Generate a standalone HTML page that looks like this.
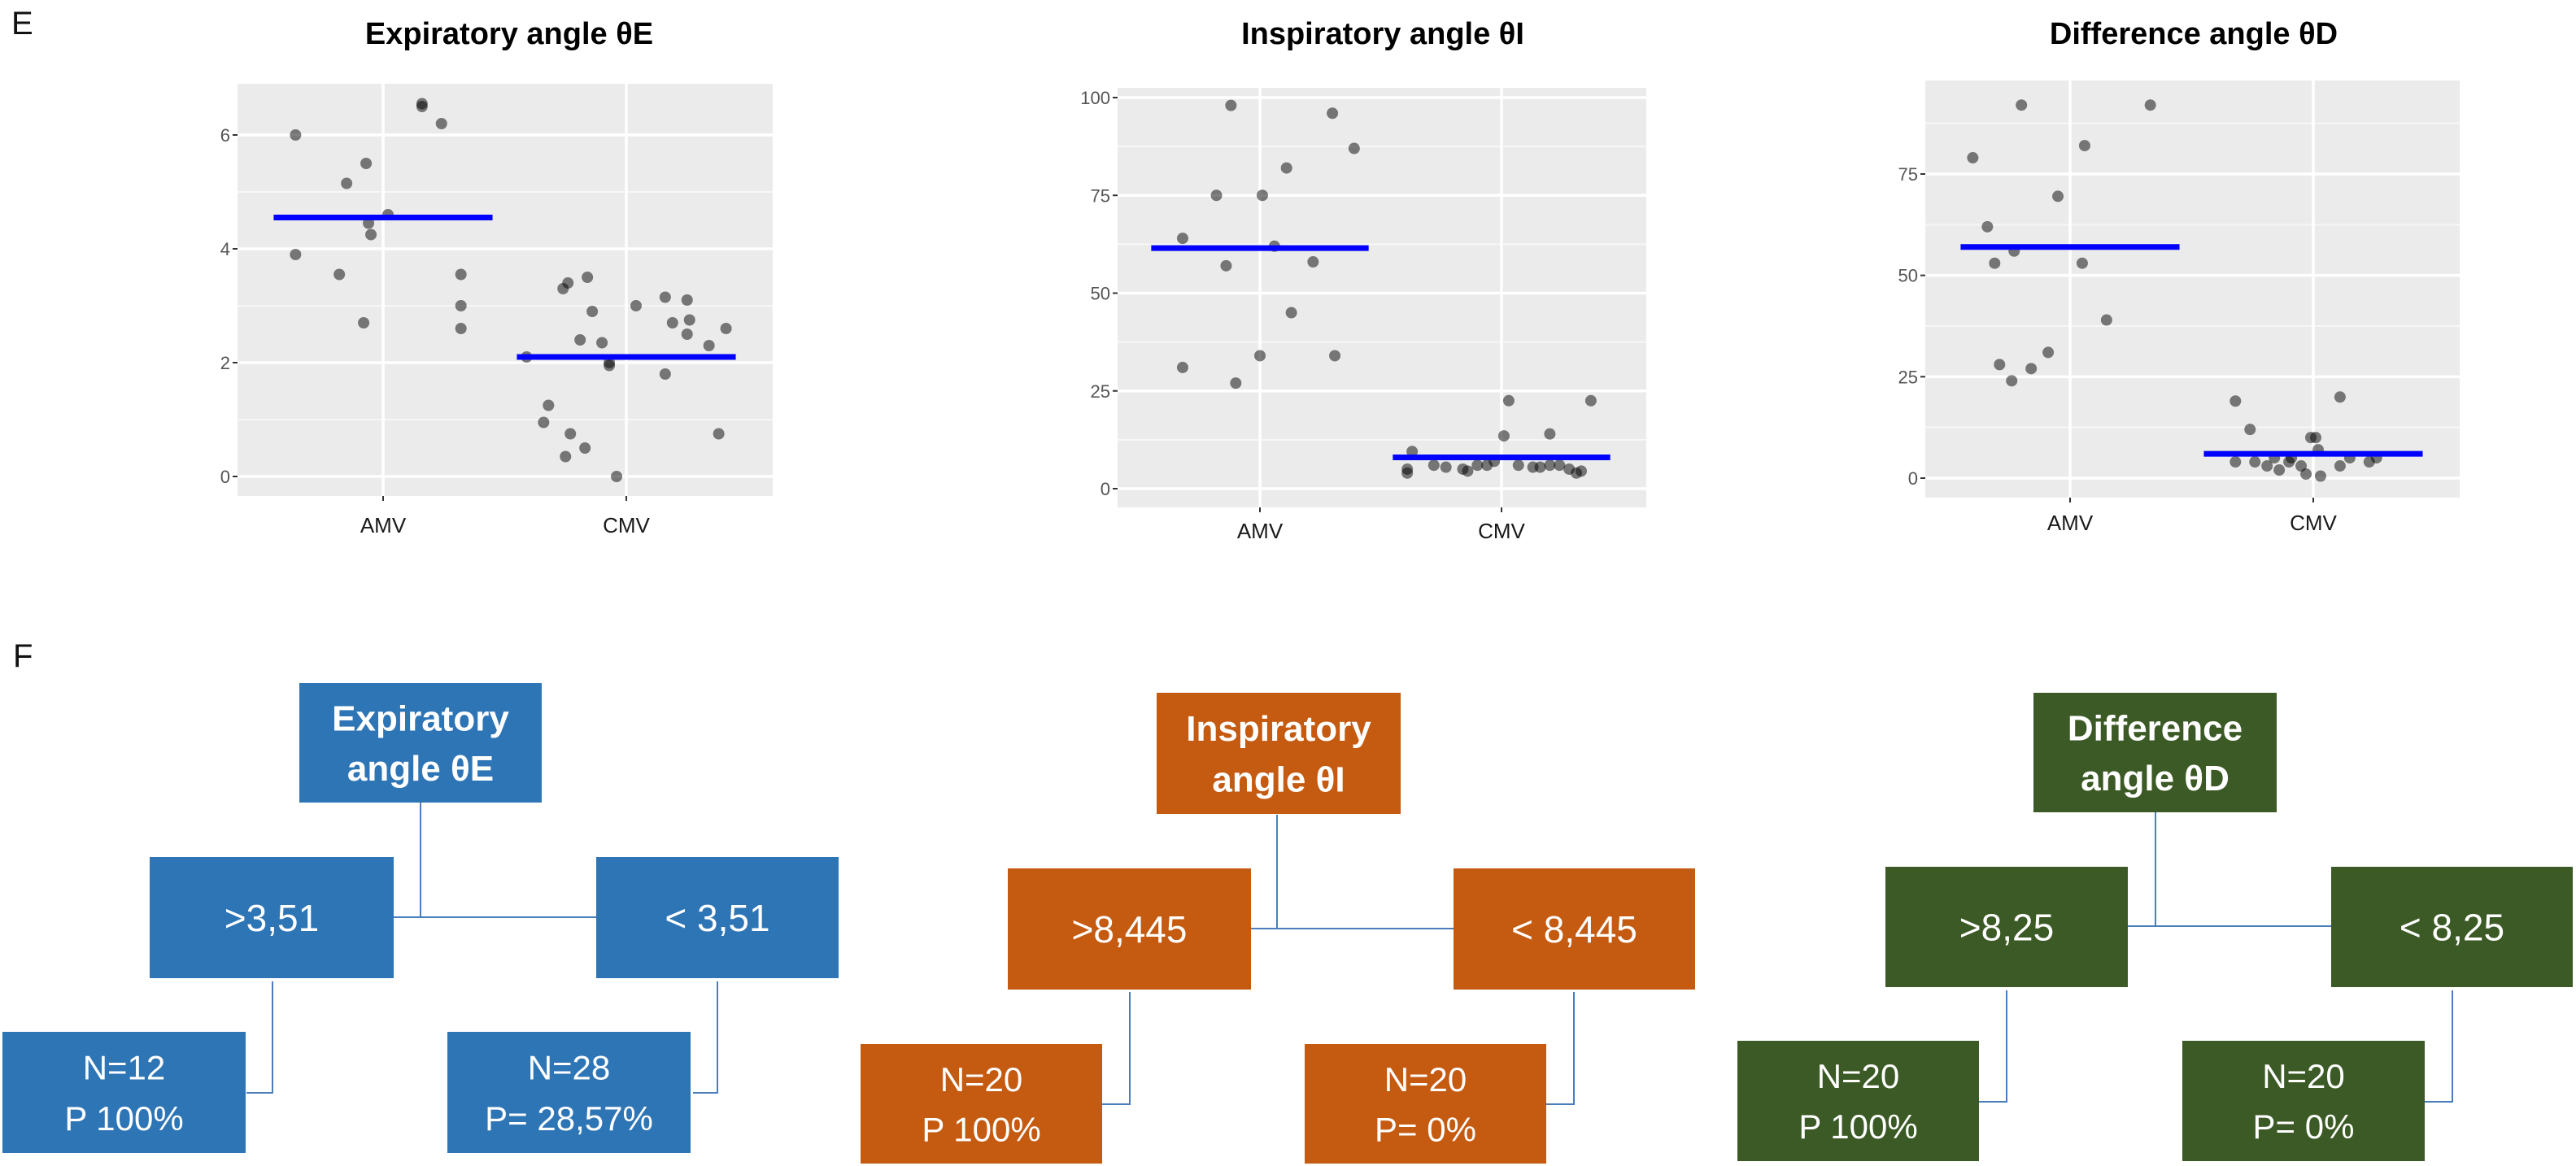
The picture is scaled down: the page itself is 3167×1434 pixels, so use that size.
<!DOCTYPE html>
<html><head><meta charset="utf-8">
<style>
html,body{margin:0;padding:0;background:#fff;}
svg{display:block;}
text{font-family:"Liberation Sans",sans-serif;}
</style></head>
<body>
<svg id="fig" width="3167" height="1434" viewBox="0 0 3167 1434" xmlns="http://www.w3.org/2000/svg">
<text x="14" y="42" font-size="40" fill="#111">E</text>
<text x="16" y="820" font-size="40" fill="#111">F</text>
<g id="charts"></g>
<g id="trees"></g>
</svg>
<script>
// ---------- chart data ----------
const categories = ["AMV","CMV"];
const titles = ["Expiratory angle \u03b8E","Inspiratory angle \u03b8I","Difference angle \u03b8D"];
const ticks1 = [0,2,4,6];
const ticks2 = [0,25,50,75,100];
const ticks3 = [0,25,50,75];
const means1 = [4.55, 2.1];
const means2 = [61.5, 8];
const means3 = [57, 6];
const e_amv = [6.0,5.15,5.5,4.45,4.25,4.6,3.9,3.55,2.7,6.55,6.5,6.2,3.55,3.0,2.6];
const e_amv_j = [-0.36,-0.15,-0.07,-0.06,-0.05,0.02,-0.36,-0.18,-0.08,0.16,0.16,0.24,0.32,0.32,0.32];
const e_cmv = [3.3,3.4,3.5,2.9,2.4,2.35,2.0,1.95,2.1,1.25,0.95,0.75,0.5,0.35,0.0,3.0,3.15,3.1,2.7,2.75,2.5,2.6,2.3,1.8,0.75];
const e_cmv_j = [-0.26,-0.24,-0.16,-0.14,-0.19,-0.10,-0.07,-0.07,-0.41,-0.32,-0.34,-0.23,-0.17,-0.25,-0.04,0.04,0.16,0.25,0.19,0.26,0.25,0.41,0.34,0.16,0.38];
const i_amv = [31,98,75,75,82,64,57,62,27,34,45,58,96,87,34];
const i_amv_j = [-0.32,-0.12,-0.18,0.01,0.11,-0.32,-0.14,0.06,-0.10,0,0.13,0.22,0.30,0.39,0.31];
const i_cmv = [4,5,9.5,6,5,4.5,6,13.5,22.5,7,6,5.5,5.5,14,6,4,22.5,6,5,4.5,5.5,6];
const i_cmv_j = [-0.39,-0.39,-0.37,-0.28,-0.16,-0.14,-0.06,0.01,0.03,-0.03,0.07,0.13,0.16,0.20,0.24,0.31,0.37,0.20,0.28,0.33,-0.23,-0.10];
const d_amv = [92,92,79,82,69.5,62,56,53,53,39,31,28,27,24];
const d_amv_j = [-0.20,0.33,-0.40,0.06,-0.05,-0.34,-0.23,-0.31,0.05,0.15,-0.09,-0.29,-0.16,-0.24];
const d_cmv = [19,20,12,10,10,4,4,3,2,4,3,1,0.5,7,3,5,5,4,5,5];
const d_cmv_j = [-0.32,0.11,-0.26,-0.01,0.01,-0.32,-0.24,-0.19,-0.14,-0.10,-0.05,-0.03,0.03,0.02,0.11,0.15,0.26,0.23,-0.16,-0.09];

const NS="http://www.w3.org/2000/svg";
function mk(tag, attrs, parent){const e=document.createElementNS(NS,tag);for(const k in attrs)e.setAttribute(k,attrs[k]);parent.appendChild(e);return e;}

const panels = [
 {x0:292,x1:950,y0:103,y1:610,vA:0,pA:586,vB:6,pB:166,cx:[471,770],tcx:626,ticks:ticks1,minor:1,means:means1,amv:e_amv,amvj:e_amv_j,cmv:e_cmv,cmvj:e_cmv_j,labY:655,id:"expiratory"},
 {x0:1374,x1:2024,y0:108,y1:624,vA:0,pA:601,vB:100,pB:120,cx:[1549,1846],tcx:1700,ticks:ticks2,minor:12.5,means:means2,amv:i_amv,amvj:i_amv_j,cmv:i_cmv,cmvj:i_cmv_j,labY:662,id:"inspiratory"},
 {x0:2367,x1:3024,y0:99,y1:612,vA:0,pA:588,vB:75,pB:214,cx:[2545,2844],tcx:2697,ticks:ticks3,minor:12.5,means:means3,amv:d_amv,amvj:d_amv_j,cmv:d_cmv,cmvj:d_cmv_j,labY:652,id:"difference"}
];
const charts=document.getElementById('charts');
panels.forEach((p,pi)=>{
  const g=mk('g',{},charts);
  
  
  const Y=v=>p.pA+(v-p.vA)*(p.pB-p.pA)/(p.vB-p.vA);
  const sp=p.cx[1]-p.cx[0];
  const X=(c,j)=>p.cx[c]+j*sp;
  const t=mk('text',{x:p.tcx,y:54,'font-size':38,'font-weight':'bold','text-anchor':'middle',fill:'#000'},g);
  t.textContent=titles[pi];
  
  
  const bg=mk('rect',{x:p.x0,y:p.y0,width:p.x1-p.x0,height:p.y1-p.y0,fill:'#ebebeb'},g);
  
  
  // minor gridlines
  const vmin=p.vA+(p.y1-p.pA)*(p.vB-p.vA)/(p.pB-p.pA);
  const vmax=p.vA+(p.y0-p.pA)*(p.vB-p.vA)/(p.pB-p.pA);
  for(let v=Math.ceil(vmin/p.minor)*p.minor; v<=vmax; v+=p.minor){
    mk('line',{x1:p.x0,x2:p.x1,y1:Y(v),y2:Y(v),stroke:'#f7f7f7','stroke-width':2},g);
  }
  p.ticks.forEach(v=>{
    const l=mk('line',{x1:p.x0,x2:p.x1,y1:Y(v),y2:Y(v),stroke:'#fff','stroke-width':3.5},g);
    
    
    mk('line',{x1:p.x0-6,x2:p.x0,y1:Y(v),y2:Y(v),stroke:'#333','stroke-width':2},g);
    const tl=mk('text',{x:p.x0-9,y:Y(v)+8,'font-size':22,'text-anchor':'end',fill:'#555'},g);
    tl.textContent=v;
    
    
  });
  categories.forEach((c,ci)=>{
    mk('line',{x1:p.cx[ci],x2:p.cx[ci],y1:p.y0,y2:p.y1,stroke:'#fff','stroke-width':3.5},g);
    mk('line',{x1:p.cx[ci],x2:p.cx[ci],y1:p.y1,y2:p.y1+6,stroke:'#333','stroke-width':2},g);
    const xl=mk('text',{x:p.cx[ci],y:p.labY,'font-size':26,'text-anchor':'middle',fill:'#1a1a1a'},g);
    xl.textContent=c;
    
    
  });
  const groups=[[p.amv,p.amvj],[p.cmv,p.cmvj]];
  groups.forEach((gr,ci)=>{
    gr[0].forEach((v,k)=>{
      const c=mk('circle',{cx:X(ci,gr[1][k]),cy:Y(v),r:7,fill:'rgba(0,0,0,0.5)'},g);
      
      
    });
  });
  p.means.forEach((m,ci)=>{
    const l=mk('line',{x1:X(ci,-0.45),x2:X(ci,0.45),y1:Y(m),y2:Y(m),stroke:'#0000ff','stroke-width':7},g);
    
    
  });
});

// ---------- decision trees ----------
const trees=document.getElementById('trees');
function box(x0,y0,x1,y1,color,lines,bold,fs,name){
  const g=mk('g',{},trees);
  
  
  mk('rect',{x:x0,y:y0,width:x1-x0,height:y1-y0,fill:color},g);
  const cx=(x0+x1)/2, cy=(y0+y1)/2;
  const lh = lines.length>1 ? (y1-y0)*0.42 : 0;
  lines.forEach((s,i)=>{
    const t=mk('text',{x:cx,y:cy+(i-(lines.length-1)/2)*lh+fs*0.36,'font-size':fs,'text-anchor':'middle',fill:'#fff','font-weight':bold?'bold':'normal'},g);
    t.textContent=s;
  });
}
function path(d){const e=mk('path',{d:d,fill:'none',stroke:'#4a7ebb','stroke-width':2},trees);
  }
const BLUE='#2e75b6', ORANGE='#c55a11', GREEN='#3c5a25';
// Tree 1
box(368,840,666,987,BLUE,["Expiratory","angle \u03b8E"],true,44,'tree1-root');
box(184,1054,484,1203,BLUE,[">3,51"],false,46,'tree1-high');
box(733,1054,1031,1203,BLUE,["< 3,51"],false,46,'tree1-low');
box(3,1269,302,1418,BLUE,["N=12","P 100%"],false,42,'tree1-high-result');
box(550,1269,849,1418,BLUE,["N=28","P= 28,57%"],false,42,'tree1-low-result');
path("M517 987 V1128 M484 1128 H733 M335 1207 V1344 H303 M882 1207 V1344 H852");
// Tree 2
box(1422,852,1722,1001,ORANGE,["Inspiratory","angle \u03b8I"],true,44,'tree2-root');
box(1239,1068,1538,1217,ORANGE,[">8,445"],false,46,'tree2-high');
box(1787,1068,2084,1217,ORANGE,["< 8,445"],false,46,'tree2-low');
box(1058,1284,1355,1431,ORANGE,["N=20","P 100%"],false,42,'tree2-high-result');
box(1604,1284,1901,1431,ORANGE,["N=20","P= 0%"],false,42,'tree2-low-result');
path("M1570 1002 V1142 M1538 1142 H1787 M1389 1220 V1358 H1355 M1935 1220 V1358 H1901");
// Tree 3
box(2500,852,2799,999,GREEN,["Difference","angle \u03b8D"],true,44,'tree3-root');
box(2318,1066,2616,1214,GREEN,[">8,25"],false,46,'tree3-high');
box(2866,1066,3163,1214,GREEN,["< 8,25"],false,46,'tree3-low');
box(2136,1280,2433,1428,GREEN,["N=20","P 100%"],false,42,'tree3-high-result');
box(2683,1280,2981,1428,GREEN,["N=20","P= 0%"],false,42,'tree3-low-result');
path("M2650 999 V1139 M2616 1139 H2866 M2467 1218 V1355 H2433 M3015 1218 V1355 H2981");
</script>
</body></html>
